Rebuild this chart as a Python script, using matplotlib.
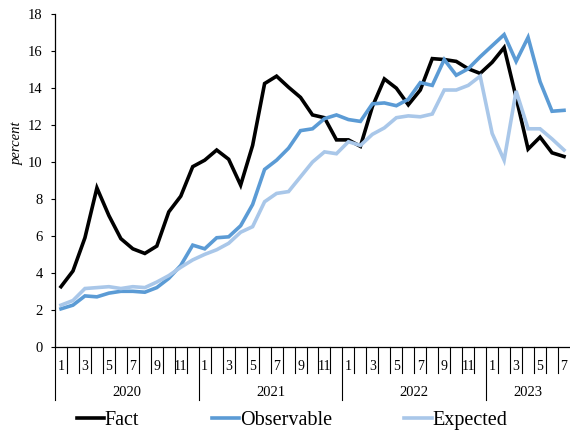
import matplotlib
matplotlib.use("Agg")
import matplotlib.pyplot as plt
import matplotlib.transforms as mtransforms
import numpy as np

plt.rcParams['font.family'] = ['Liberation Serif', 'DejaVu Serif']

# Monthly series, Jan 2020 - Jul 2023
years = ['2020', '2021', '2022', '2023']
months_per_year = [12, 12, 12, 7]
month_labels = ['1', '', '3', '', '5', '', '7', '', '9', '', '11', '']

fact = [3.25, 4.1, 5.9, 8.6, 7.1, 5.85, 5.3, 5.05, 5.45, 7.3, 8.15, 9.75,
        10.1, 10.65, 10.15, 8.75, 10.9, 14.25, 14.65, 14.05, 13.5, 12.55, 12.4, 11.2,
        11.2, 10.85, 13.0, 14.5, 14.0, 13.1, 13.9, 15.6, 15.55, 15.45, 15.05, 14.8,
        15.4, 16.2, 13.5, 10.7, 11.35, 10.5, 10.3]
observable = [2.05, 2.25, 2.75, 2.7, 2.9, 3.0, 3.0, 2.95, 3.2, 3.7, 4.4, 5.5,
              5.3, 5.9, 5.95, 6.55, 7.7, 9.6, 10.1, 10.75, 11.7, 11.8, 12.35, 12.55,
              12.3, 12.2, 13.15, 13.2, 13.05, 13.4, 14.3, 14.15, 15.55, 14.7, 15.05, 15.7,
              16.3, 16.9, 15.45, 16.75, 14.35, 12.75, 12.8]
expected = [2.25, 2.5, 3.15, 3.2, 3.25, 3.15, 3.25, 3.2, 3.5, 3.85, 4.3, 4.7,
            5.0, 5.25, 5.6, 6.2, 6.5, 7.85, 8.3, 8.4, 9.2, 10.0, 10.55, 10.45,
            11.1, 10.9, 11.5, 11.85, 12.4, 12.5, 12.45, 12.6, 13.9, 13.9, 14.15, 14.65,
            11.55, 10.1, 13.85, 11.8, 11.8, 11.25, 10.65]

W, H = 570, 430
fig = plt.figure(figsize=(W / 100, H / 100), dpi=100)
ax = fig.add_axes([55 / W, 1 - 346.7 / H, (570 - 55) / W, (346.7 - 14.3) / H])

x = np.arange(len(fact))
lw = 2.6
ax.plot(x, fact, color='black', lw=lw, label='Fact', solid_joinstyle='miter')
ax.plot(x, observable, color='#5B9BD5', lw=lw, label='Observable', solid_joinstyle='miter')
ax.plot(x, expected, color='#A9C7E9', lw=lw, label='Expected', solid_joinstyle='miter')

n = len(fact)
ax.set_xlim(-0.5, n - 0.5)
ax.set_ylim(0, 18)
ax.set_yticks(np.arange(0, 19, 2))
ax.tick_params(axis='y', direction='out', length=3, width=0.8, pad=6, labelsize=10.5)
ax.set_xticks([])

for s in ['top', 'right']:
    ax.spines[s].set_visible(False)
ax.spines['left'].set_linewidth(0.9)
ax.spines['bottom'].set_linewidth(0.9)

# Two-level category axis drawn below the plot area
trans = mtransforms.blended_transform_factory(ax.transData, fig.transFigure)
y_axis = 1 - 346.7 / H
y_short = 1 - 373 / H
y_long = 1 - 400 / H
y_month = 1 - 366 / H
y_year = 1 - 392 / H

start = 0
for yr, cnt in zip(years, months_per_year):
    ax.plot([start - 0.5, start - 0.5], [y_axis, y_long], transform=trans,
            color='black', lw=0.8, clip_on=False)
    for k in range(cnt):
        idx = start + k
        if k > 0:
            ax.plot([idx - 0.5, idx - 0.5], [y_axis, y_short], transform=trans,
                    color='black', lw=0.8, clip_on=False)
        ax.text(idx, y_month, month_labels[k], transform=trans, ha='center',
                va='center', fontsize=10)
    ax.text(start + (cnt - 1) / 2, y_year, yr, transform=trans, ha='center',
            va='center', fontsize=10.5)
    start += cnt

fig.text(17 / W, 1 - 143 / H, 'percent', rotation=90, style='italic',
         ha='center', va='center', fontsize=10.5)

fig.legend(loc='center', bbox_to_anchor=(292 / W, 1 - 420 / H), ncol=3,
           frameon=False, fontsize=14.5, handlelength=1.35, handletextpad=0.05,
           columnspacing=3.6, borderaxespad=0)

fig.savefig('out.png', dpi=100)
